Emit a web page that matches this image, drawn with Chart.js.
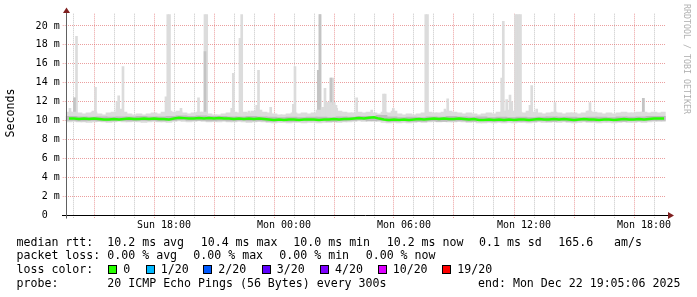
<!DOCTYPE html>
<html><head><meta charset="utf-8">
<script src="https://cdn.jsdelivr.net/npm/chart.js@4/dist/chart.umd.min.js"></script>
<style>
html,body{margin:0;padding:0;background:#fff;}
#wrap{position:relative;width:697px;height:297px;overflow:hidden;background:#fff;}
canvas{position:absolute;left:0;top:0;}
.t{position:absolute;font-family:'DejaVu Sans Mono',monospace;font-size:11.6px;line-height:14px;color:#000;white-space:pre;}
.sq{position:absolute;width:7px;height:7px;border:1px solid #000;}
</style></head><body>
<div id="wrap"><canvas id="c" width="697" height="297"></canvas></div>
<script>
// ---------------- data ----------------
// time axis in hours relative to Mon 00:00
const startHour = -10.915;   // Sun 13:05:06
const endHour = 19.085;      // Mon 19:05:06
const xGridHours = [-10,-9,-8,-7,-6,-5,-4,-3,-2,-1,0,1,2,3,4,5,6,7,8,9,10,11,12,13,14,15,16,17,18,19];
const xLabelHours = [-6, 0, 6, 12, 18];
const xLabelTexts = ['Sun 18:00', 'Mon 00:00', 'Mon 06:00', 'Mon 12:00', 'Mon 18:00'];
const yGridValues = [0,1,2,3,4,5,6,7,8,9,10,11,12,13,14,15,16,17,18,19,20,21];
const yMax = 21.3;

// 15-minute samples (first at Sun 13:15), values in ms
const bandHigh = [
10.9,10.9,10.8,10.7,10.8,10.9,10.7,10.6,10.8,10.9,
11.2,10.9,10.7,10.6,10.7,10.6,10.7,10.8,10.7,10.9,
11.0,10.9,11.0,10.8,10.7,10.8,10.9,10.9,10.7,10.6,
10.6,10.7,10.8,10.9,10.8,10.9,10.8,11.0,11.1,10.9,
10.8,10.7,10.6,10.6,10.7,10.8,10.7,10.8,10.7,10.8,
11.1,11.4,11.9,11.6,11.0,10.9,10.8,10.8,10.9,10.8,
10.9,10.8,10.7,10.9,10.8,11.0,10.7,10.6,10.7,10.6,
10.7,10.8,10.9,10.8,10.8,10.9,11.0,10.9,10.8,10.7,
10.8,10.7,10.6,10.7,10.8,10.7,10.9,11.0,11.1,11.0,
10.9,10.8,11.0,10.9,10.8,10.7,10.8,10.9,10.8,10.7,
10.8,10.8,10.7,10.8,11.0,10.9,10.8,10.7,10.8,10.7,
10.8,10.9,10.8,10.8,10.9,10.9,10.8,10.9,10.8,10.9];
const bandLow = [
9.85,9.9,9.85,9.85,9.8,9.85,9.9,9.85,9.8,9.85,
9.9,9.85,9.85,9.9,9.85,9.8,9.85,9.9,9.85,9.85,
9.8,9.9,9.95,9.9,9.85,9.9,9.95,9.9,9.85,9.9,
9.85,9.9,9.85,9.85,9.9,9.85,9.8,9.85,9.9,9.85,
9.8,9.75,9.8,9.8,9.75,9.8,9.8,9.75,9.8,9.8,
9.75,9.8,9.8,9.85,9.8,9.85,9.85,9.9,9.95,9.9,
9.95,9.95,9.9,9.8,9.75,9.8,9.75,9.8,9.75,9.8,
9.85,9.8,9.85,9.9,9.85,9.9,9.85,9.85,9.9,9.85,
9.8,9.85,9.75,9.75,9.8,9.75,9.8,9.75,9.8,9.75,
9.8,9.8,9.75,9.8,9.85,9.8,9.8,9.85,9.8,9.85,
9.8,9.75,9.8,9.85,9.8,9.8,9.75,9.8,9.8,9.75,
9.8,9.85,9.8,9.8,9.85,9.8,9.85,9.9,9.9,9.9];
const medianRtt = [
10.2,10.2,10.15,10.2,10.15,10.2,10.15,
10.1,10.1,10.15,10.1,10.15,10.2,10.15,
10.15,10.2,10.15,10.2,10.15,10.15,10.1,
10.2,10.3,10.25,10.2,10.2,10.25,10.2,
10.25,10.2,10.25,10.2,10.2,10.15,10.2,
10.15,10.2,10.15,10.2,10.15,10.1,10.05,
10.1,10.05,10.1,10.1,10.05,10.1,10.1,
10.1,10.05,10.1,10.1,10.15,10.1,10.15,
10.15,10.2,10.25,10.2,10.3,10.35,10.2,
10.1,10.05,10.1,10.05,10.1,10.05,10.1,
10.15,10.1,10.15,10.2,10.15,10.2,10.15,
10.15,10.2,10.15,10.1,10.15,10.05,10.05,
10.1,10.05,10.1,10.05,10.1,10.05,10.1,
10.1,10.05,10.1,10.15,10.1,10.1,10.15,
10.1,10.15,10.1,10.05,10.1,10.15,10.1,
10.1,10.05,10.1,10.1,10.05,10.1,10.15,
10.1,10.1,10.15,10.1,10.15,10.2,10.2,10.2];

// 30-minute samples (first centred at Sun 13:17)
const innerLow = [
10.0,9.95,10.0,9.95,9.95,10.0,9.95,10.0,10.0,9.95,
10.0,10.05,10.0,10.0,9.95,10.0,9.95,10.0,9.95,9.95,
9.9,9.95,9.9,9.95,9.95,9.95,9.9,9.95,10.0,10.05,
9.95,10.0,9.9,9.95,9.9,9.9,9.95,9.9,9.95,9.95,
9.9,9.95,9.9,9.9,9.95,9.9,9.9,9.95,9.9,9.95,
9.9,9.95,9.9,9.95,9.95,9.9,9.95,9.95,10.0,10.0];
const innerHigh = [
10.45,10.4,10.35,10.4,10.35,10.4,10.4,10.45,10.4,10.4,
10.45,10.5,10.45,10.5,10.45,10.45,10.4,10.4,10.45,10.4,
10.35,10.3,10.35,10.3,10.35,10.35,10.3,10.4,10.35,10.45,
10.45,10.55,10.4,10.3,10.35,10.3,10.4,10.35,10.45,10.4,
10.35,10.4,10.3,10.35,10.3,10.35,10.3,10.35,10.4,10.35,
10.35,10.3,10.35,10.35,10.3,10.4,10.35,10.4,10.45,10.45];

// isolated high pings (5-minute samples)
const spikeHours = [-10.70,-10.475,-10.375,-9.55,-9.425,-8.35,-8.265,-8.05,-5.9,-5.81,-5.725,-5.15,-4.275,-3.95,-3.865,-2.615,-2.535,-2.2,-2.115,-1.75,-1.365,-1.275,-0.665,0.465,0.55,1.715,1.8,2.05,2.15,2.25,2.35,2.435,2.515,2.635,3.635,4.385,4.975,5.06,5.465,7.09,7.175,8.05,8.185,10.885,10.965,11.135,11.3,11.385,11.575,11.66,11.74,11.825,12.3,12.385,12.635,13.55,15.215,15.3,17.55,17.965];
const spikeTop = [11.3,12.4,18.9,11.0,13.5,12.0,12.6,15.7,12.5,21.2,21.2,11.3,12.4,21.2,21.2,11.3,15.0,18.7,21.2,11.0,11.6,15.3,11.4,11.7,15.7,15.3,21.2,13.4,11.9,11.9,14.5,14.5,11.9,11.3,12.4,11.1,12.8,12.8,11.3,21.2,21.2,11.2,12.3,14.5,20.5,12.2,12.7,12.0,21.2,21.2,21.2,21.2,11.6,13.7,11.2,11.9,11.0,11.9,10.8,12.35];
const spikeFloor = 10.4;
const denseHours = [-10.475,-3.95,1.715,1.8,2.35,17.965];
const denseTop = [12.4,17.3,15.3,21.2,14.5,12.35];

// legend
const lossLabels = ['0','1/20','2/20','3/20','4/20','10/20','19/20'];
const lossColors = ['#26ff00','#00b8ff','#0059ff','#5e00ff','#7e00ff','#dd00ff','#ff0000'];

// ---------------- chart ----------------
const bandTimes = bandHigh.map((_, i) => -10.75 + 0.25 * i);
const innerTimes = innerHigh.map((_, i) => -10.625 + 0.5 * i);

const MINOR = 'rgba(143,143,143,0.5)';
const MAJOR = 'rgba(222,95,95,0.6)';
const FONT = "'DejaVu Sans Mono', monospace";

const axesPlugin = {
  id: 'rrdAxes',
  afterDraw(chart) {
    const ctx = chart.ctx, a = chart.chartArea;
    const yb = Math.round(a.bottom) + 0.5;
    const xl = Math.round(a.left) + 0.5;
    ctx.save();
    ctx.lineWidth = 1;
    ctx.strokeStyle = '#000';
    ctx.beginPath(); ctx.moveTo(62, yb); ctx.lineTo(669, yb); ctx.stroke();
    ctx.strokeStyle = '#606060';
    ctx.beginPath(); ctx.moveTo(xl, yb + 3); ctx.lineTo(xl, 12); ctx.stroke();
    ctx.fillStyle = '#7f1f1f';
    ctx.beginPath(); ctx.moveTo(668, yb - 3.5); ctx.lineTo(674, yb); ctx.lineTo(668, yb + 3.5); ctx.closePath(); ctx.fill();
    ctx.beginPath(); ctx.moveTo(xl - 3.5, 13); ctx.lineTo(xl, 7.5); ctx.lineTo(xl + 3.5, 13); ctx.closePath(); ctx.fill();
    ctx.restore();
  }
};

new Chart(document.getElementById('c'), {
  type: 'bar',
  data: {
    datasets: [
      { type: 'line', label: 'median', order: 0,
        data: bandTimes.map((t, i) => ({x: t, y: medianRtt[i]})),
        borderColor: '#26ff00', borderWidth: 2.5, pointRadius: 0, tension: 0, fill: false },
      { label: 'inner', order: 1, grouped: false, backgroundColor: '#bdbdbd', barThickness: 11, borderWidth: 0,
        data: innerTimes.map((t, i) => ({x: t, y: [innerLow[i], innerHigh[i]]})) },
      { label: 'band', order: 2, grouped: false, backgroundColor: '#dcdcdc', barThickness: 6, borderWidth: 0,
        data: bandTimes.map((t, i) => ({x: t, y: [bandLow[i], bandHigh[i]]})) },
      { label: 'dense', order: 3, grouped: false, backgroundColor: '#c4c4c4', barThickness: 2, borderWidth: 0,
        data: denseHours.map((t, i) => ({x: t, y: [spikeFloor, denseTop[i]]})) },
      { label: 'spikes', order: 4, grouped: false, backgroundColor: '#dcdcdc', barThickness: 2, borderWidth: 0,
        data: spikeHours.map((t, i) => ({x: t, y: [spikeFloor, spikeTop[i]]})) }
    ]
  },
  options: {
    responsive: false, devicePixelRatio: 1, animation: false, events: [],
    layout: { padding: { left: 0, top: 13.7, right: 31.3, bottom: 62 } },
    plugins: { legend: { display: false }, tooltip: { enabled: false } },
    scales: {
      x: {
        type: 'linear', min: startHour, max: endHour, offset: false,
        afterBuildTicks: s => { s.ticks = xGridHours.map(v => ({value: v})); },
        afterFit: s => { s.height = 20; },
        grid: {
          color: c => (c.tick && c.tick.value % 3 === 0) ? MAJOR : MINOR,
          tickColor: c => (c.tick && c.tick.value % 3 === 0) ? MAJOR : MINOR,
          tickLength: 3, lineWidth: 1, tickBorderDash: [1, 1]
        },
        border: { display: false, dash: [1, 1] },
        ticks: {
          autoSkip: false, maxRotation: 0, minRotation: 0, padding: 1,
          font: { family: FONT, size: 10 }, color: '#000',
          callback: v => { const k = xLabelHours.indexOf(v); return k >= 0 ? xLabelTexts[k] : ''; }
        }
      },
      y: {
        type: 'linear', min: 0, max: yMax,
        afterBuildTicks: s => { s.ticks = yGridValues.map(v => ({value: v})); },
        afterFit: s => { s.width = 65.7; },
        grid: {
          color: c => (c.tick && c.tick.value % 2 === 0) ? MAJOR : MINOR,
          tickColor: c => (c.tick && c.tick.value % 2 === 0) ? MAJOR : MINOR,
          tickLength: 3, lineWidth: 1, tickBorderDash: [1, 1]
        },
        border: { display: false, dash: [1, 1] },
        ticks: {
          padding: 3, font: { family: FONT, size: 10 }, color: '#000',
          callback: v => (v % 2 !== 0) ? '' : (v === 0 ? '0  ' : v + ' m')
        }
      }
    }
  },
  plugins: [axesPlugin]
});

// ---------------- text ----------------
const wrap = document.getElementById('wrap');
function put(text, x, yc, extra) {
  const d = document.createElement('div');
  d.className = 't';
  d.textContent = text;
  d.style.left = x + 'px';
  d.style.top = (yc - 7) + 'px';
  if (extra) Object.assign(d.style, extra);
  wrap.appendChild(d);
  return d;
}
const rows = [241.7, 255, 269.3, 282.7];
put('median rtt:', 16.5, rows[0]);
put('10.2 ms avg', 107.3, rows[0]);
put('10.4 ms max', 200.7, rows[0]);
put('10.0 ms min', 293.3, rows[0]);
put('10.2 ms now', 386.7, rows[0]);
put('0.1 ms sd', 479, rows[0]);
put('165.6', 558.3, rows[0]);
put('am/s', 614, rows[0]);

put('packet loss:', 16.5, rows[1]);
put('0.00 % avg', 107.3, rows[1]);
put('0.00 % max', 193.3, rows[1]);
put('0.00 % min', 279.3, rows[1]);
put('0.00 % now', 365.7, rows[1]);

put('loss color:', 16.5, rows[2]);
const boxX = [108.3, 145.7, 203.3, 261.7, 320, 377.7, 442.3];
lossLabels.forEach((lab, i) => {
  const s = document.createElement('div');
  s.className = 'sq';
  s.style.left = Math.round(boxX[i]) + 'px';
  s.style.top = '265px';
  s.style.background = lossColors[i];
  wrap.appendChild(s);
  put(lab, boxX[i] + 15, rows[2]);
});

put('probe:', 16.5, rows[3]);
put('20 ICMP Echo Pings (56 Bytes) every 300s', 107.3, rows[3]);
put('end: Mon Dec 22 19:05:06 2025', 478, rows[3]);

put('Seconds', -40, 112.5, { width: '100px', textAlign: 'center', transform: 'rotate(-90deg)', left: '-40px' });
put('RRDTOOL / TOBI OETIKER', 627, 59, { width: '120px', textAlign: 'center', transform: 'rotate(90deg)', fontSize: '8.3px', color: '#b0b0b0' });
</script>
</body></html>
